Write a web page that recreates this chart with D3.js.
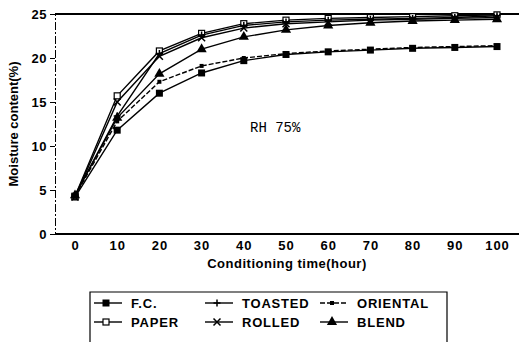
<!DOCTYPE html>
<html>
<head>
<meta charset="utf-8">
<script src="https://d3js.org/d3.v7.min.js"></script>
<style>
  body { margin: 0; background: #fff; }
  text { font-family: "Liberation Sans", Arial, sans-serif; fill: #000; }
</style>
</head>
<body>
<svg id="chart" width="519" height="342"></svg>
<script>
    // data
    var hours = [0, 10, 20, 30, 40, 50, 60, 70, 80, 90, 100];
    var fc       = [4.2, 11.8, 16.0, 18.3, 19.7, 20.4, 20.7, 20.9, 21.1, 21.2, 21.3];
    var oriental = [4.3, 12.8, 17.3, 19.1, 20.0, 20.5, 20.8, 21.0, 21.2, 21.3, 21.4];
    var blend    = [4.4, 13.2, 18.2, 21.0, 22.4, 23.2, 23.7, 24.0, 24.2, 24.3, 24.4];
    var rolled   = [4.2, 15.0, 20.2, 22.3, 23.4, 23.9, 24.1, 24.3, 24.4, 24.5, 24.6];
    var toasted  = [4.4, 13.4, 20.5, 22.6, 23.7, 24.1, 24.3, 24.4, 24.5, 24.6, 24.8];
    var paper    = [4.3, 15.7, 20.8, 22.8, 23.9, 24.3, 24.5, 24.6, 24.7, 24.8, 24.9];
    var yTicks = [0, 5, 10, 15, 20, 25];

    var series = [
        {name: "F.C.", values: fc, marker: "fsquare", dash: null},
        {name: "PAPER", values: paper, marker: "osquare", dash: null},
        {name: "TOASTED", values: toasted, marker: "plus", dash: null},
        {name: "ROLLED", values: rolled, marker: "cross", dash: null},
        {name: "ORIENTAL", values: oriental, marker: "small", dash: "5,2"},
        {name: "BLEND", values: blend, marker: "triangle", dash: null}
    ];

    var svg = d3.select('#chart');
    var plotLeft = 55, plotTop = 14, plotBottom = 234;

    var x = d3.scaleLinear().domain([0, 100]).range([75, 497]);
    var y = d3.scaleLinear().domain([0, 25]).range([plotBottom, plotTop]);

    // frame: top and bottom run to the edge, left axis
    svg.append('line').attr('x1', plotLeft).attr('x2', 519).attr('y1', plotTop).attr('y2', plotTop)
        .attr('stroke', '#000').attr('stroke-width', 2);
    svg.append('line').attr('x1', plotLeft).attr('x2', 519).attr('y1', plotBottom).attr('y2', plotBottom)
        .attr('stroke', '#000').attr('stroke-width', 2);

    var yAxis = svg.append('g')
        .attr('transform', 'translate(' + plotLeft + ',0)')
        .call(d3.axisLeft(y).tickValues(yTicks).tickSize(5).tickPadding(3));
    yAxis.select('.domain').attr('stroke-dasharray', '8,2,2,2').attr('stroke-width', 1);
    yAxis.selectAll('text').style('font-size', '13px').style('font-weight', 'bold').style('letter-spacing', '0.5px');

    var xAxis = svg.append('g')
        .attr('transform', 'translate(0,' + plotBottom + ')')
        .call(d3.axisBottom(x).tickValues(hours).tickSize(0).tickPadding(7));
    xAxis.select('.domain').remove();
    xAxis.selectAll('text').style('font-size', '13px').style('font-weight', 'bold').style('letter-spacing', '1px');

    svg.append('text').attr('x', 287).attr('y', 268).attr('text-anchor', 'middle')
        .style('font-size', '13px').style('font-weight', 'bold').style('letter-spacing', '0.5px')
        .text('Conditioning time(hour)');
    svg.append('text').attr('transform', 'translate(18,124) rotate(-90)')
        .attr('text-anchor', 'middle')
        .style('font-size', '13px').style('font-weight', 'bold')
        .text('Moisture content(%)');
    svg.append('text').attr('x', 250).attr('y', 132)
        .style('font-family', '"Liberation Mono", monospace').style('font-size', '14px')
        .text('RH 75%');

    function drawMarker(g, kind, cx, cy) {
        if (kind === 'fsquare') {
            g.append('rect').attr('x', cx - 3.5).attr('y', cy - 3.5).attr('width', 7).attr('height', 7).attr('fill', '#000');
        } else if (kind === 'osquare') {
            g.append('rect').attr('x', cx - 3).attr('y', cy - 3).attr('width', 6).attr('height', 6)
                .attr('fill', '#fff').attr('stroke', '#000').attr('stroke-width', 1.2);
        } else if (kind === 'small') {
            g.append('rect').attr('x', cx - 2).attr('y', cy - 2).attr('width', 4).attr('height', 4).attr('fill', '#000');
        } else if (kind === 'triangle') {
            g.append('path').attr('d', d3.symbol(d3.symbolTriangle, 45)()).attr('transform', 'translate(' + cx + ',' + cy + ')').attr('fill', '#000');
        } else if (kind === 'plus') {
            g.append('path').attr('d', 'M' + (cx - 3.5) + ',' + cy + 'H' + (cx + 3.5) + 'M' + cx + ',' + (cy - 3.5) + 'V' + (cy + 3.5))
                .attr('stroke', '#000').attr('stroke-width', 1.5);
        } else if (kind === 'cross') {
            g.append('path').attr('d', 'M' + (cx - 3.5) + ',' + (cy - 3.5) + 'L' + (cx + 3.5) + ',' + (cy + 3.5) + 'M' + (cx - 3.5) + ',' + (cy + 3.5) + 'L' + (cx + 3.5) + ',' + (cy - 3.5))
                .attr('stroke', '#000').attr('stroke-width', 1.5);
        }
    }

    var line = d3.line()
        .x(function (d, i) { return x(hours[i]); })
        .y(function (d) { return y(d); });

    series.forEach(function (s) {
        var g = svg.append('g');
        g.append('path').attr('d', line(s.values)).attr('fill', 'none')
            .attr('stroke', '#000').attr('stroke-width', 1.4)
            .attr('stroke-dasharray', s.dash);
        s.values.forEach(function (v, i) { drawMarker(g, s.marker, x(hours[i]), y(v)); });
    });

    // legend
    var lg = svg.append('g');
    lg.append('path').attr('d', 'M90,342V292H447V342').attr('fill', 'none').attr('stroke', '#000').attr('stroke-width', 1.2);
    var colX = [94, 205, 320];
    series.forEach(function (s, i) {
        var col = Math.floor(i / 2), row = i % 2;
        var lx = colX[col], ly = 303 + row * 19;
        lg.append('line').attr('x1', lx).attr('x2', lx + 28).attr('y1', ly).attr('y2', ly)
            .attr('stroke', '#000').attr('stroke-width', 1.4).attr('stroke-dasharray', s.dash);
        drawMarker(lg, s.marker, lx + 12, ly);
        lg.append('text').attr('x', lx + 37).attr('y', ly + 5)
            .style('font-size', '13px').style('font-weight', 'bold').style('letter-spacing', '0.8px').text(s.name);
    });
</script>
</body>
</html>
